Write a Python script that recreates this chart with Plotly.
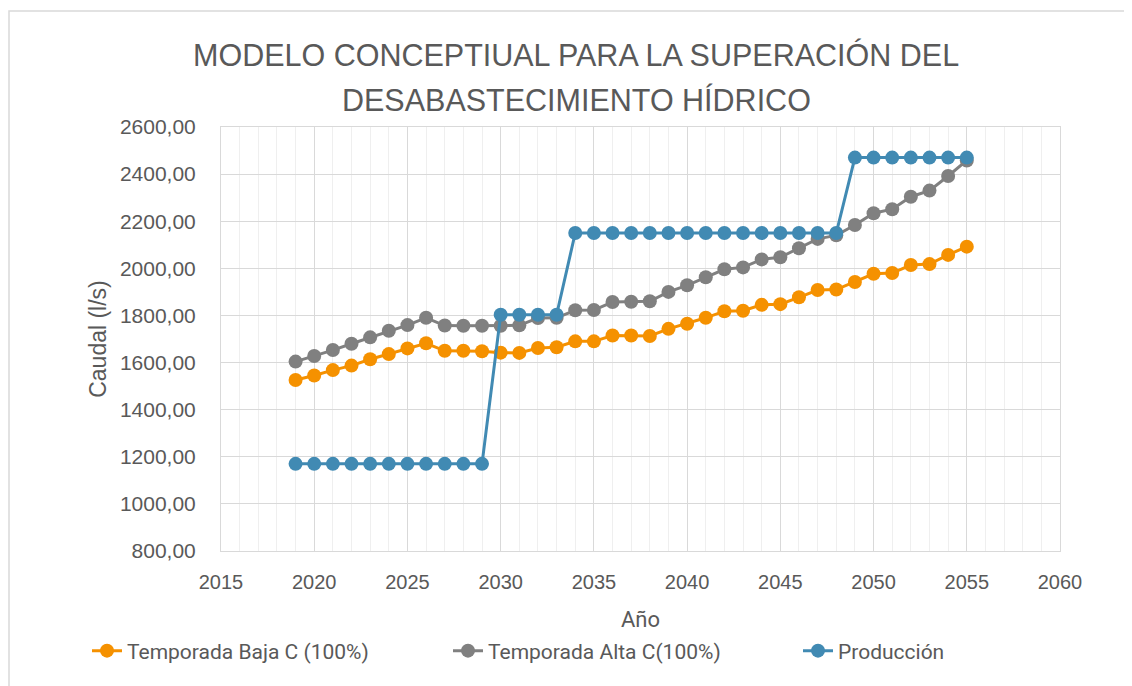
import plotly.graph_objects as go

years = list(range(2019, 2056))
baja = [1526, 1545, 1568, 1587, 1614, 1636, 1660, 1682, 1650, 1650, 1648, 1642, 1641,
        1662, 1665, 1690, 1690, 1715, 1715, 1713, 1743, 1765, 1790, 1818, 1820, 1845,
        1848, 1877, 1908, 1910, 1942, 1977, 1980, 2014, 2018, 2057, 2092]
alta = [1604, 1628, 1653, 1680, 1707, 1735, 1759, 1790, 1757, 1756, 1756, 1756, 1758,
        1789, 1790, 1822, 1823, 1857, 1858, 1860, 1900, 1928, 1962, 1996, 2004, 2038,
        2047, 2085, 2125, 2140, 2184, 2234, 2251, 2304, 2330, 2392, 2458]
produccion = [1170] * 11 + [1803] * 4 + [2150] * 15 + [2470] * 7

names = ["Temporada Baja C (100%)", "Temporada Alta C(100%)", "Producción"]
colors = ["#F59100", "#808080", "#418AB3"]
series = [baja, alta, produccion]
title_lines = ["MODELO CONCEPTIUAL PARA LA SUPERACIÓN DEL", "DESABASTECIMIENTO HÍDRICO"]

# page is offset by the 8px body margin
OFF = 8
W, H = 1132 - OFF, 686 - OFF
L, T = 221 - OFF, 127 - OFF
R = W - (1060 - OFF)
B = H - (551 - OFF)
PW, PH = W - L - R, H - T - B

def px_x(page_x):
    return (page_x - OFF - L) / PW

def px_y(page_y):
    return 1 - (page_y - OFF - T) / PH

fig = go.Figure()
legend_ids = ["legend", "legend2", "legend3"]
for name, vals, col, lid in zip(names, series, colors, legend_ids):
    fig.add_trace(go.Scatter(
        x=years, y=vals, name=name, mode="lines+markers",
        line=dict(color=col, width=3),
        marker=dict(color=col, size=14),
        legend=lid,
    ))

txt = "#595959"
leg_common = dict(orientation="h", xanchor="left", yanchor="middle",
                  font=dict(size=21, color=txt, family="Roboto, sans-serif"),
                  bgcolor="rgba(0,0,0,0)")
legend_x = [87, 448, 798]
fig.update_layout(
    width=W, height=H,
    margin=dict(l=L, r=R, t=T, b=B, autoexpand=False),
    paper_bgcolor="white", plot_bgcolor="white",
    separators=",.",
    font=dict(family="Liberation Sans, Arial, sans-serif", color=txt, size=18),
    legend=dict(x=px_x(legend_x[0]), y=px_y(651), **leg_common),
    legend2=dict(x=px_x(legend_x[1]), y=px_y(651), **leg_common),
    legend3=dict(x=px_x(legend_x[2]), y=px_y(651), **leg_common),
    showlegend=True,
)
for line, py in zip(title_lines, [55, 100]):
    fig.add_annotation(text=line, xref="paper", yref="paper",
                       x=px_x(576), y=px_y(py), xanchor="center", yanchor="middle",
                       showarrow=False,
                       font=dict(family="Liberation Sans, Arial, sans-serif", size=30.5, color=txt))
fig.update_xaxes(
    range=[2015, 2060], dtick=5, tick0=2015, tickformat="d",
    showgrid=True, gridcolor="#d9d9d9", gridwidth=1,
    minor=dict(dtick=1, showgrid=True, gridcolor="#efefef", gridwidth=1),
    showline=True, linecolor="#d9d9d9", mirror=True, zeroline=False,
    ticks="", tickfont=dict(size=20, color=txt), ticklabelstandoff=13,
    title=dict(text="Año", font=dict(family="Roboto, sans-serif", size=22, color=txt), standoff=19),
)
fig.update_yaxes(
    range=[800, 2600], dtick=200, tickformat=".2f",
    showgrid=True, gridcolor="#d9d9d9", gridwidth=1,
    showline=True, linecolor="#d9d9d9", mirror=True, zeroline=False,
    ticks="", tickfont=dict(size=21, color=txt),
    ticklabelstandoff=20,
    title=dict(text="Caudal (l/s)", font=dict(size=23, color=txt), standoff=6),
)
fig.add_shape(type="rect", xref="paper", yref="paper",
              x0=px_x(9), x1=px_x(1145), y0=px_y(700), y1=px_y(11),
              line=dict(color="#d9d9d9", width=1.5), layer="below")
fig.write_html("out.html")
